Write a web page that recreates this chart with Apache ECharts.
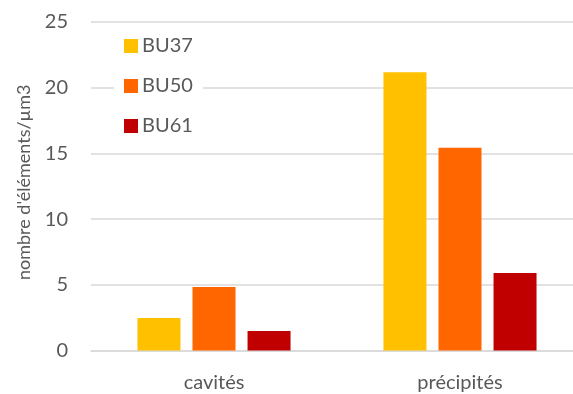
<!DOCTYPE html>
<html>
<head>
<meta charset="utf-8">
<script src="https://cdn.jsdelivr.net/npm/echarts@6/dist/echarts.min.js"></script>
<style>
  html, body { margin: 0; padding: 0; background: #fff; overflow: hidden; }
  /* plot area runs slightly past the right edge of the window */
  #chart { width: 583px; height: 394px; }
</style>
</head>
<body>
<div id="chart"></div>
<script>
// Density of defects per sample, by defect type
const categories = ['cavités', 'précipités'];
const seriesNames = ['BU37', 'BU50', 'BU61'];
const bu37 = [2.47, 21.17];
const bu50 = [4.83, 15.43];
const bu61 = [1.48, 5.9];
const yTicks = [0, 5, 10, 15, 20, 25];

const colors = ['#FFC000', '#FF6600', '#C00000'];
const font = 'Lato, "Open Sans", sans-serif';
const textGray = '#595959';
const labelSize = 20;

const chart = echarts.init(document.getElementById('chart'), null, { renderer: 'canvas' });

const values = [bu37, bu50, bu61];

chart.setOption({
  animation: false,
  textStyle: { fontFamily: font },
  grid: { left: 91, top: 22, right: 0, height: 328.5, containLabel: false },
  legend: {
    orient: 'vertical',
    left: 114,
    top: 29,
    padding: [6, 10, 6, 10],
    backgroundColor: '#ffffff',
    itemWidth: 14,
    itemHeight: 14,
    itemGap: 18,
    icon: 'rect',
    data: seriesNames,
    textStyle: { fontFamily: font, fontSize: labelSize, color: textGray, lineHeight: 22, padding: [0, 0, 0, -1] }
  },
  xAxis: {
    type: 'category',
    data: categories,
    axisLine: { show: true, lineStyle: { color: '#d9d9d9', width: 1.5 } },
    axisTick: { show: false },
    axisLabel: { fontFamily: font, fontSize: labelSize, color: textGray, margin: 22 }
  },
  yAxis: {
    type: 'value',
    min: yTicks[0],
    max: yTicks[yTicks.length - 1],
    interval: 5,
    name: "nombre d'éléments/µm3",
    nameLocation: 'middle',
    nameGap: 58,
    nameTextStyle: { fontFamily: font, fontSize: 18, color: textGray, padding: [0, 0, 0, 8] },
    axisLine: { show: false },
    axisTick: { show: false },
    axisLabel: { fontFamily: font, fontSize: labelSize, color: textGray, margin: 23 },
    splitLine: { lineStyle: { color: '#d9d9d9', width: 1.5 } }
  },
  series: seriesNames.map((name, i) => ({
    name: name,
    type: 'bar',
    data: values[i],
    barWidth: 43,
    barGap: '28%',
    itemStyle: { color: colors[i] }
  }))
});
</script>
</body>
</html>
